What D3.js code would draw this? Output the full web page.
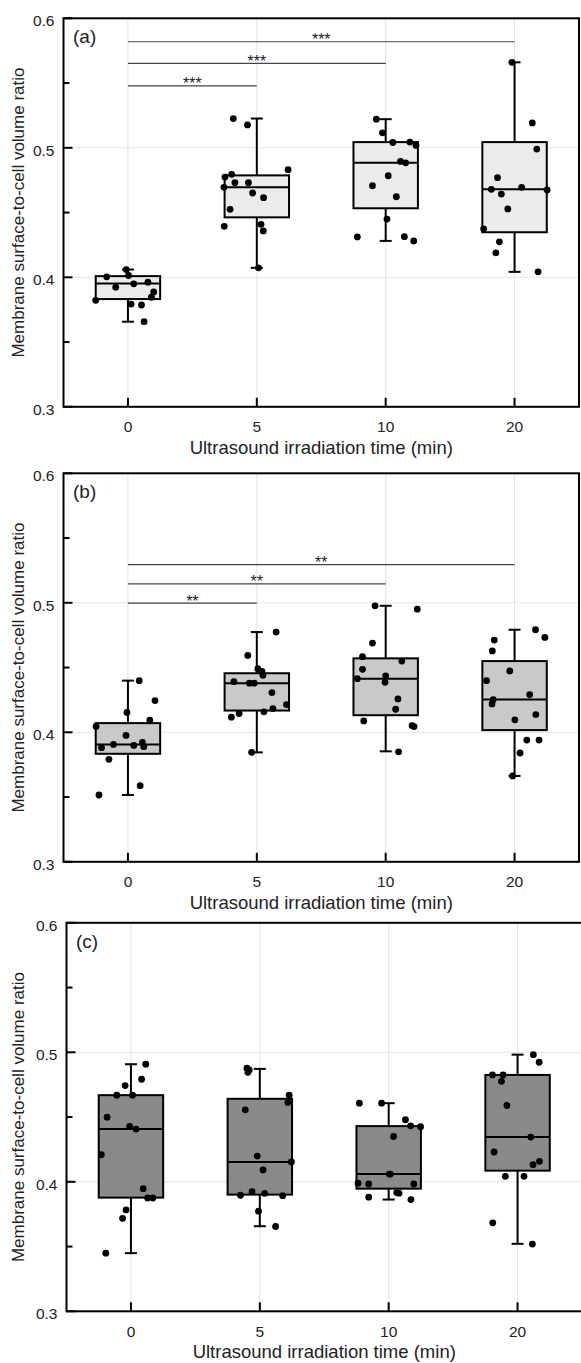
<!DOCTYPE html>
<html>
<head>
<script src="https://cdnjs.cloudflare.com/ajax/libs/d3/7.8.5/d3.min.js"></script>
<style>
  body { margin: 0; background: #fff; font-family: 'Liberation Sans', Arial, sans-serif; }
  svg text { font-family: 'Liberation Sans', Arial, sans-serif; }
</style>
</head>
<body>
<script>
// categories (irradiation time, min)
var categories = ["0", "5", "10", "20"];
var yTicks = [0.3, 0.4, 0.5, 0.6];
var yMinorTicks = [0.35, 0.45, 0.55];
var panelLabels = ["(a)", "(b)", "(c)"];
var boxFills = ["#ebebeb", "#c9c9c9", "#8a8a8a"];

// box stats per category: [whisker low, q1, median, q3, whisker high]
var boxesA = [[0.3657,0.3832,0.3953,0.4009,0.4060],[0.4073,0.4463,0.4695,0.4787,0.5226],[0.4281,0.4533,0.4884,0.5044,0.5221],[0.4042,0.4348,0.4679,0.5044,0.5660]];
var boxesB = [[0.3516,0.3834,0.3906,0.4071,0.4399],[0.3845,0.4168,0.4379,0.4456,0.4774],[0.3853,0.4132,0.4414,0.4571,0.4977],[0.3663,0.4017,0.4253,0.4550,0.4792]];
var boxesC = [[0.3449,0.3878,0.4407,0.4669,0.4908],[0.3657,0.3901,0.4153,0.4641,0.4872],[0.3863,0.3947,0.4060,0.4430,0.4607],[0.3521,0.4086,0.4345,0.4825,0.4982]];

// individual cell values per category
var pointsA = [
  [0.3822,0.4004,0.3924,0.4060,0.4014,0.3950,0.3793,0.3786,0.3657,0.3962,0.3887,0.3846],
  [0.5226,0.5177,0.4831,0.4774,0.4795,0.4730,0.4730,0.4695,0.4651,0.4615,0.4525,0.4409,0.4358,0.4394,0.4073],
  [0.5221,0.5116,0.5041,0.5044,0.5018,0.4895,0.4884,0.4784,0.4707,0.4622,0.4450,0.4312,0.4314,0.4281],
  [0.5660,0.5192,0.4990,0.4769,0.4679,0.4643,0.4695,0.4674,0.4528,0.4374,0.4274,0.4189,0.4042]
];
var pointsB = [
  [0.4399,0.4245,0.4153,0.4094,0.4045,0.3976,0.3881,0.3906,0.3899,0.3922,0.3889,0.3791,0.3588,0.3516],
  [0.4774,0.4594,0.4491,0.4471,0.4440,0.4391,0.4379,0.4379,0.4307,0.4214,0.4183,0.4158,0.4145,0.4117,0.3845],
  [0.4977,0.4951,0.4689,0.4584,0.4550,0.4486,0.4414,0.4435,0.4386,0.4258,0.4178,0.4088,0.4052,0.4044,0.3849],
  [0.4792,0.4733,0.4712,0.4628,0.4474,0.4399,0.4291,0.4253,0.4219,0.4137,0.4096,0.3940,0.3940,0.3840,0.3663]
];
var pointsC = [
  [0.4908,0.4792,0.4743,0.4669,0.4669,0.4499,0.4428,0.4407,0.4209,0.3947,0.3875,0.3875,0.3783,0.3718,0.3449],
  [0.4877,0.4864,0.4846,0.4669,0.4612,0.4556,0.4199,0.4153,0.4091,0.3896,0.3924,0.3911,0.3893,0.3773,0.3655],
  [0.4607,0.4607,0.4479,0.4432,0.4425,0.4350,0.4060,0.4060,0.3989,0.3983,0.3983,0.3917,0.3912,0.3881,0.3863],
  [0.4982,0.4923,0.4825,0.4825,0.4776,0.4589,0.4345,0.4230,0.4158,0.4132,0.4042,0.4042,0.3683,0.3519]
];
// horizontal jitter of each point, as a fraction of the box half width
var jitterA = [
  [-1.0,-0.66,-0.38,-0.05,0.02,0.18,0.1,0.42,0.5,0.62,0.8,0.73],
  [-0.73,-0.29,0.97,-0.99,-0.78,-0.68,-0.26,-1.02,-0.13,0.21,-0.83,0.13,0.2,-1.01,0.05],
  [-0.29,-0.1,0.22,0.75,0.94,0.46,0.62,0.08,-0.41,0.33,0.04,-0.88,0.58,0.87],
  [-0.08,0.55,0.69,-0.53,-0.72,-0.41,0.22,1.01,-0.21,-0.96,-0.47,-0.58,0.73]
];
var jitterB = [
  [0.35,0.84,-0.03,0.68,-0.99,-0.06,-0.82,-0.45,0.18,0.45,0.49,-0.59,0.38,-0.9],
  [0.6,-0.28,0.03,0.16,0.19,-0.71,-0.23,-0.08,0.47,0.92,0.5,0.22,-0.55,-0.79,-0.16],
  [-0.33,0.98,-0.41,-0.72,0.5,-0.72,-0.88,0,-0.02,0.38,0.31,-0.68,0.82,0.88,0.4],
  [0.65,0.94,-0.63,-0.69,-0.15,-0.87,0.47,-0.66,-0.7,0.66,0.01,0.38,0.76,0.17,-0.06]
];
var jitterC = [
  [0.46,0.33,-0.18,-0.44,0.05,-0.74,-0.04,0.16,-0.92,0.38,0.52,0.68,-0.15,-0.26,-0.78],
  [-0.4,-0.33,-0.37,0.91,0.87,-0.45,-0.08,0.98,0.1,-0.6,-0.24,0.15,0.71,-0.04,0.49],
  [-0.91,-0.22,0.52,0.68,0.99,0.15,0.02,0.05,-0.95,-0.62,0.78,0.25,0.32,-0.62,0.69],
  [0.49,0.67,-0.78,-0.45,-0.5,-0.33,0.41,-0.73,0.68,0.48,-0.38,0.2,-0.77,0.46]
];

// significance brackets: 0 vs 5, 0 vs 10, 0 vs 20
var sigTargets = ["5", "10", "20"];
var sigLevelsA = [0.5478, 0.5652, 0.5819];
var sigLevelsB = [0.4997, 0.5146, 0.5295];
var sigMarks = ["***", "**", null];

var panels = [
  {boxes: boxesA, points: pointsA, jitter: jitterA, sig: sigLevelsA, top: 18.3, left: 63.5},
  {boxes: boxesB, points: pointsB, jitter: jitterB, sig: sigLevelsB, top: 473.3, left: 63.5},
  {boxes: boxesC, points: pointsC, jitter: jitterC, sig: null, top: 922.8, left: 66.5}
];

var W = 581, H = 1363, pw = 515.5, ph = 388.5;
var svg = d3.select("body").append("svg").attr("width", W).attr("height", H);

panels.forEach(function(p, pi) {
  var g = svg.append("g").attr("transform", "translate(" + p.left + "," + p.top + ")");
  var x = d3.scalePoint().domain(categories).range([0, pw]).padding(0.5);
  var y = d3.scaleLinear().domain([0.3, 0.6]).range([ph, 0]);
  var hw = x.step() / 4;

  // grid
  g.selectAll(".vg").data(categories).enter().append("line")
    .attr("x1", d => x(d)).attr("x2", d => x(d)).attr("y1", 0).attr("y2", ph)
    .attr("stroke", "#e3e3e3").attr("stroke-width", 1);
  g.selectAll(".hg").data([0.4, 0.5]).enter().append("line")
    .attr("x1", 0).attr("x2", pw).attr("y1", d => y(d)).attr("y2", d => y(d))
    .attr("stroke", "#e3e3e3").attr("stroke-width", 1);

  // significance lines
  if (p.sig) {
    p.sig.forEach(function(v, i) {
      g.append("line").attr("x1", x("0")).attr("x2", x(sigTargets[i]))
        .attr("y1", y(v)).attr("y2", y(v)).attr("stroke", "#444").attr("stroke-width", 1.2);
      g.append("text").attr("x", (x("0") + x(sigTargets[i])) / 2).attr("y", y(v) + 3.5)
        .attr("text-anchor", "middle").attr("font-size", 16).attr("fill", "#222").text(sigMarks[pi]);
    });
  }

  // boxes
  var bg = g.selectAll(".box").data(p.boxes).enter().append("g")
    .attr("transform", (d, i) => "translate(" + x(categories[i]) + ",0)");
  bg.append("line").attr("x1", 0).attr("x2", 0).attr("y1", d => y(d[0])).attr("y2", d => y(d[4]))
    .attr("stroke", "#000").attr("stroke-width", 2);
  bg.append("line").attr("x1", -6).attr("x2", 6).attr("y1", d => y(d[0])).attr("y2", d => y(d[0]))
    .attr("stroke", "#000").attr("stroke-width", 2);
  bg.append("line").attr("x1", -6).attr("x2", 6).attr("y1", d => y(d[4])).attr("y2", d => y(d[4]))
    .attr("stroke", "#000").attr("stroke-width", 2);
  bg.append("rect").attr("x", -hw).attr("width", hw * 2)
    .attr("y", d => y(d[3])).attr("height", d => y(d[1]) - y(d[3]))
    .attr("fill", boxFills[pi]).attr("stroke", "#000").attr("stroke-width", 2);
  bg.append("line").attr("x1", -hw).attr("x2", hw).attr("y1", d => y(d[2])).attr("y2", d => y(d[2]))
    .attr("stroke", "#000").attr("stroke-width", 2);

  // points
  p.points.forEach(function(vals, ci) {
    g.selectAll(".pt" + ci).data(vals).enter().append("circle")
      .attr("cx", (d, k) => x(categories[ci]) + p.jitter[ci][k] * hw)
      .attr("cy", d => y(d)).attr("r", 3.4).attr("fill", "#000");
  });

  // frame
  g.append("rect").attr("width", pw).attr("height", ph)
    .attr("fill", "none").attr("stroke", "#000").attr("stroke-width", 2);

  // inward ticks
  g.selectAll(".yt").data(yTicks).enter().append("line")
    .attr("x1", 0).attr("x2", 9).attr("y1", d => y(d)).attr("y2", d => y(d))
    .attr("stroke", "#000").attr("stroke-width", 2);
  g.selectAll(".ymt").data(yMinorTicks).enter().append("line")
    .attr("x1", 0).attr("x2", 6).attr("y1", d => y(d)).attr("y2", d => y(d))
    .attr("stroke", "#000").attr("stroke-width", 2);
  g.selectAll(".xt").data(categories).enter().append("line")
    .attr("x1", d => x(d)).attr("x2", d => x(d)).attr("y1", ph).attr("y2", ph - 9)
    .attr("stroke", "#000").attr("stroke-width", 2);

  // tick labels
  g.selectAll(".yl").data(yTicks).enter().append("text")
    .attr("x", -9).attr("y", d => y(d) + 8).attr("text-anchor", "end")
    .attr("font-size", 15.5).attr("fill", "#222").text(d => d3.format(".1f")(d));
  g.selectAll(".xl").data(categories).enter().append("text")
    .attr("x", d => x(d)).attr("y", ph + 25.5).attr("text-anchor", "middle")
    .attr("font-size", 15.5).attr("fill", "#222").text(d => d);

  g.append("text").attr("x", pw / 2).attr("y", ph + 47).attr("text-anchor", "middle")
    .attr("font-size", 18.5).attr("fill", "#222").text("Ultrasound irradiation time (min)");
  g.append("text").attr("transform", "translate(" + (-p.left + 24) + "," + (ph / 2) + ") rotate(-90)")
    .attr("text-anchor", "middle").attr("font-size", 17).attr("fill", "#222")
    .text("Membrane surface-to-cell volume ratio");
  g.append("text").attr("x", 9.5).attr("y", 25).attr("font-size", 19).attr("fill", "#222")
    .text(panelLabels[pi]);
});
</script>
</body>
</html>
